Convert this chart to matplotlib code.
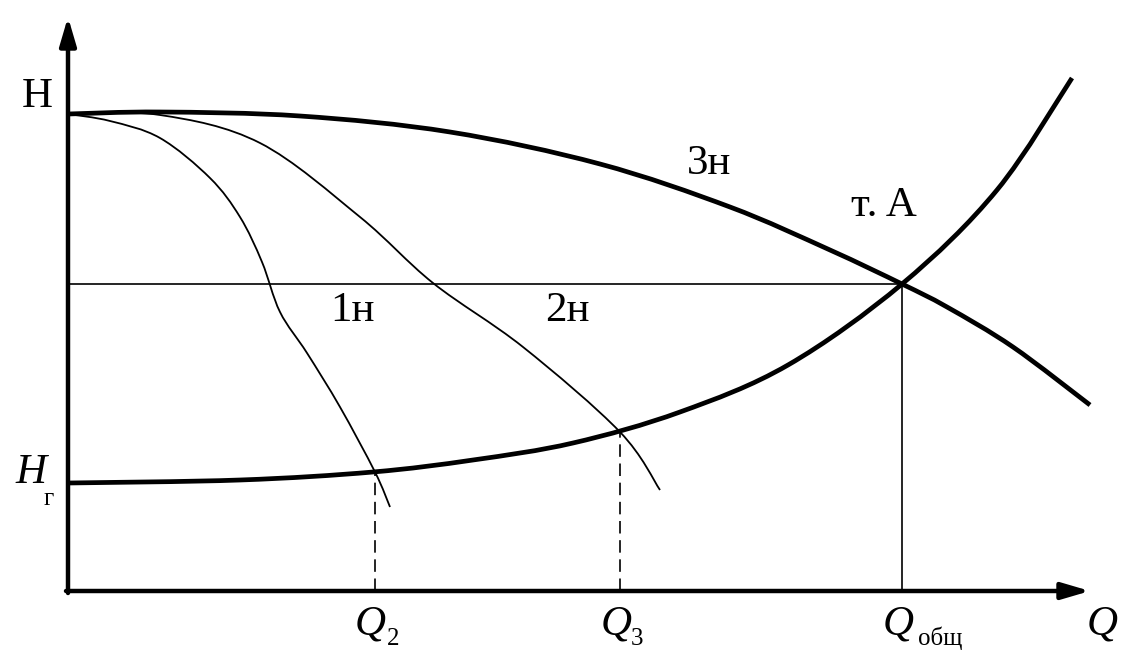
import numpy as np
import matplotlib
matplotlib.use("Agg")
import matplotlib.pyplot as plt
from matplotlib.path import Path
from matplotlib.patches import PathPatch

plt.rcParams.update({"font.family": "Liberation Serif"})

# schematic units: origin at the axes crossing, Q to the right, H up
# pump 3н (combined) characteristic
q_3n = [0, 92, 232, 382, 532, 662, 762, 834, 879, 945, 1022]
h_3n = [477, 479, 475, 459, 427, 384, 341, 307, 284, 244, 186]
# system characteristic
q_sys = [0, 172, 305, 405, 505, 612, 720, 834, 929, 1004]
h_sys = [108, 111, 119, 131, 148, 179, 226, 307, 401, 513]
# pump 1н
q_1n = [0, 42, 92, 142, 172, 194, 212, 239, 272, 307, 322]
h_1n = [477, 470, 453, 413, 374, 329, 279, 238, 184, 119, 84]
# pump 2н
q_2n = [0, 92, 192, 292, 365, 455, 552, 592]
h_2n = [477, 476, 448, 374, 308, 244, 159, 101]

Q_A, H_A = 834, 307
Q_2, H_2 = 307, 119
Q_3, H_3 = 552, 160


def smooth_curve(ax, x, y, lw):
    # Catmull-Rom through the read points, drawn as cubic Bezier segments
    p = np.column_stack([x, y]).astype(float)
    verts = [p[0]]
    codes = [Path.MOVETO]
    n = len(p)
    for i in range(n - 1):
        p0 = p[i - 1] if i > 0 else p[i]
        p3 = p[i + 2] if i + 2 < n else p[i + 1]
        c1 = p[i] + (p[i + 1] - p0) / 6
        c2 = p[i + 1] - (p3 - p[i]) / 6
        verts += [c1, c2, p[i + 1]]
        codes += [Path.CURVE4] * 3
    ax.add_patch(PathPatch(Path(verts, codes), fill=False, lw=lw,
                           edgecolor="black", capstyle="butt"))


fig = plt.figure(figsize=(11.34, 6.64), dpi=100)
ax = fig.add_axes([0, 0, 1, 1])
ax.set_xlim(-68, 1066)
ax.set_ylim(-73, 591)
ax.axis("off")

# axes with arrows
arrow = dict(arrowstyle="-|>,head_length=1.7,head_width=0.5",
             lw=3.2, color="black", shrinkA=0, shrinkB=0)
ax.annotate("", xy=(1022, 0), xytext=(-2, 0), arrowprops=arrow)
ax.annotate("", xy=(0, 574), xytext=(0, -2), arrowprops=arrow)

smooth_curve(ax, q_3n, h_3n, 3.4)
smooth_curve(ax, q_sys, h_sys, 3.4)
smooth_curve(ax, q_1n, h_1n, 1.3)
smooth_curve(ax, q_2n, h_2n, 1.3)

ax.plot([0, Q_A], [H_A, H_A], color="black", lw=1.2)
ax.plot([Q_A, Q_A], [0, H_A], color="black", lw=1.2)
ax.plot([Q_2, Q_2], [0, H_2], color="black", lw=1.2, ls=(0, (7.5, 4)))
ax.plot([Q_3, Q_3], [0, H_3], color="black", lw=1.2, ls=(0, (7.5, 4)))

fs = 31
sub = 18
ax.text(-31, 494, "H", fontsize=fs, ha="center", va="center")
ax.text(-37, 118, "H", fontsize=fs, style="italic", ha="center", va="center")
ax.text(-19, 92, "г", fontsize=sub, ha="center", va="center")

ax.text(Q_2 - 5, -33, "Q", fontsize=fs, style="italic", ha="center", va="center")
ax.text(Q_2 + 18, -48, "2", fontsize=sub, ha="center", va="center")
ax.text(Q_3 - 4, -33, "Q", fontsize=fs, style="italic", ha="center", va="center")
ax.text(Q_3 + 17, -48, "3", fontsize=sub, ha="center", va="center")
ax.text(Q_A - 4, -33, "Q", fontsize=fs, style="italic", ha="center", va="center")
ax.text(Q_A + 16, -47, "общ", fontsize=sub, ha="left", va="center")
ax.text(1034, -33, "Q", fontsize=fs, style="italic", ha="center", va="center")

ax.text(284, 280, "1н", fontsize=fs, ha="center", va="center")
ax.text(499, 280, "2н", fontsize=fs, ha="center", va="center")
ax.text(641, 427, "3н", fontsize=fs, ha="center", va="center")
ax.text(816, 385, "т. A", fontsize=fs, ha="center", va="center")

fig.savefig("out.png", dpi=100)
